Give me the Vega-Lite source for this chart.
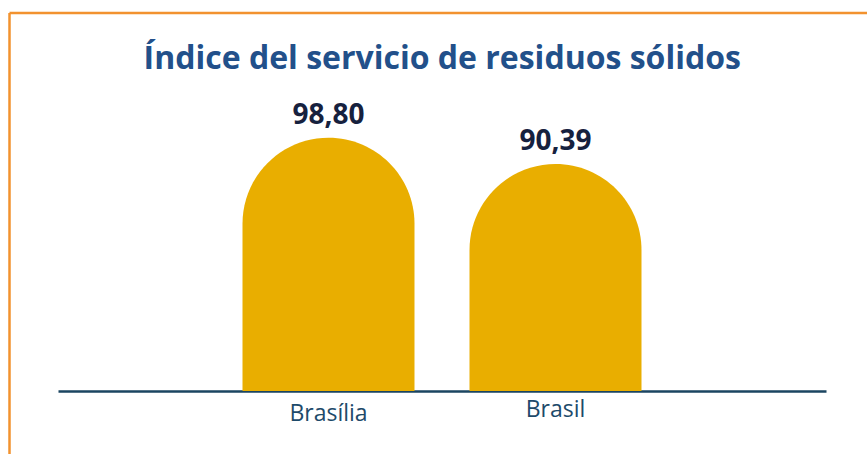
{
  "$schema": "https://vega.github.io/schema/vega-lite/v6.json",
  "autosize": "none",
  "width": 857.5,
  "height": 441,
  "padding": {"left": 9.5, "top": 13, "right": 0, "bottom": 0},
  "background": "white",
  "title": {
    "text": "Índice del servicio de residuos sólidos",
    "font": "Open Sans",
    "fontSize": 32,
    "fontWeight": "bold",
    "color": "#22508a",
    "anchor": "middle",
    "baseline": "alphabetic",
    "offset": -88,
    "dx": 4
  },
  "config": {
    "view": {"stroke": "#f2922f", "strokeWidth": 2.5, "strokeDash": [857.5, 1298.5, 441, 0]},
    "locale": {"number": {"decimal": ",", "thousands": ".", "grouping": [3], "currency": ["R$", ""]}}
  },
  "data": {"values": [
    {"lugar": "Brasília", "valor": 98.80},
    {"lugar": "Brasil", "valor": 90.39}
  ]},
  "encoding": {
    "x": {
      "field": "lugar",
      "type": "nominal",
      "sort": null,
      "scale": {"range": [48.5, 816.5], "paddingInner": 0.2423, "paddingOuter": 0.8128},
      "axis": {
        "title": null,
        "offset": -63,
        "domainColor": "#1b4561",
        "domainWidth": 2.7,
        "ticks": false,
        "tickSize": 0,
        "labelAngle": 0,
        "labelFont": "Open Sans",
        "labelFontSize": 23,
        "labelColor": "#1d4a6a",
        "labelPadding": {"condition": {"test": "datum.value === 'Brasil'", "value": 7}, "value": 11}
      }
    },
    "y": {
      "field": "valor",
      "type": "quantitative",
      "scale": {"domain": [17.8, 110.86], "range": [378, 87], "zero": false},
      "axis": null
    }
  },
  "layer": [
    {
      "mark": {"type": "bar", "color": "#e9ae00", "cornerRadiusTopLeft": 86, "cornerRadiusTopRight": 86},
      "encoding": {"y2": {"datum": 17.8}}
    },
    {
      "mark": {"type": "text", "font": "Open Sans", "fontSize": 28, "fontWeight": "bold", "color": "#16213e", "baseline": "alphabetic", "dy": -14},
      "encoding": {"text": {"field": "valor", "type": "quantitative", "format": ".2f"}}
    }
  ]
}
